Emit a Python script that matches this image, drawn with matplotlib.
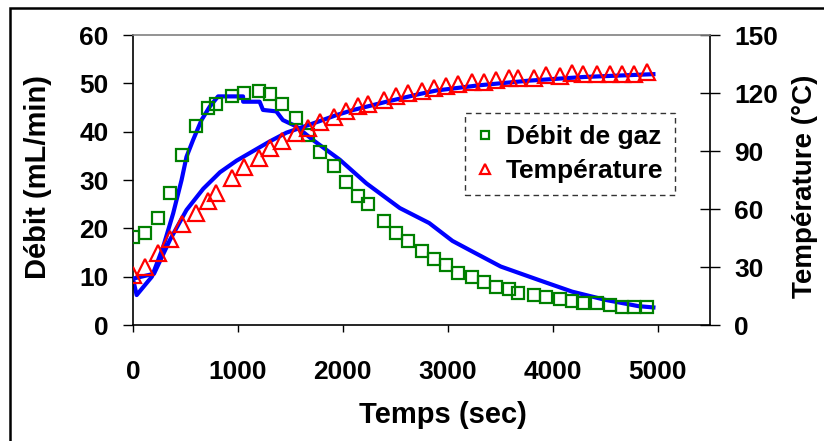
import matplotlib
matplotlib.use("Agg")
import matplotlib.pyplot as plt
from matplotlib.patches import Rectangle

plt.rcParams["font.family"] = ["Liberation Sans", "DejaVu Sans"]
plt.rcParams["font.weight"] = "bold"

# ------------------------------------------------------------
# Mesures (points)
# ------------------------------------------------------------

temps = [0, 110, 240, 352, 470, 603, 717, 793, 945, 1055, 1198, 1310,
         1420, 1555, 1670, 1785, 1912, 2032, 2140, 2238, 2392, 2508,
         2622, 2754, 2868, 2982, 3100, 3228, 3346, 3456, 3583, 3671,
         3820, 3932, 4066, 4182, 4293, 4424, 4544, 4658, 4774, 4898]

debit = [18.3, 19.1, 22.1, 27.4, 35.2, 41.1, 44.9, 45.7, 47.3, 48.1,
         48.5, 47.8, 45.7, 42.8, 39.3, 35.7, 32.8, 29.5, 26.6, 25.0,
         21.6, 19.1, 17.4, 15.4, 13.7, 12.4, 10.8, 9.9, 8.8, 7.9, 7.4,
         6.7, 6.2, 5.9, 5.4, 5.0, 4.6, 4.6, 4.1, 3.8, 3.8, 3.7]

temperature = [25.9, 30.2, 37.4, 44.3, 52.1, 58.1, 64.3, 68.4, 75.9,
               81.9, 86.2, 91.4, 95.3, 99.2, 101.8, 105.2, 107.8, 110.9,
               113.3, 114.3, 116.4, 118.5, 120.2, 121.2, 122.4, 123.6,
               124.6, 125.8, 125.8, 126.7, 127.6, 127.6, 127.6, 129.3,
               128.8, 130.2, 129.8, 129.8, 129.8, 129.8, 129.8, 131.0]

# ------------------------------------------------------------
# Modeles (courbes bleues)
# ------------------------------------------------------------

t_mod_debit = [0, 35, 180, 288, 383, 463, 510, 573, 653, 732, 811, 1049,
               1050, 1207, 1239, 1366, 1429, 1556, 1714, 1971, 2225, 2543,
               2823, 3045, 3235, 3505, 3869, 4186, 4503, 4819, 4980]
mod_debit = [9.5, 6.2, 10.0, 16.2, 23.1, 30.0, 34.8, 38.3, 42.4, 45.2,
             47.3, 47.3, 46.2, 46.2, 44.5, 44.2, 42.4, 41.1, 38.3, 34.2,
             29.3, 24.2, 21.1, 17.4, 15.2, 12.1, 9.3, 6.9, 5.2, 3.9, 3.6]

t_mod_temp = [0, 200, 352, 510, 670, 829, 987, 1146, 1305, 1463, 1622,
              1781, 1940, 2098, 2416, 2733, 2892, 3300, 3774, 4300, 4980]
mod_temp = [24.0, 26.5, 44.0, 59.5, 70.5, 79.0, 85.0, 90.0, 95.0, 99.5,
            102.5, 105.5, 108.6, 111.2, 115.5, 119.5, 121.3, 124.0, 126.4,
            128.3, 129.8]

x_ticks = [0, 1000, 2000, 3000, 4000, 5000]
y_ticks = [0, 10, 20, 30, 40, 50, 60]
y2_ticks = [0, 30, 60, 90, 120, 150]

# ------------------------------------------------------------
# Figure
# ------------------------------------------------------------

fig = plt.figure(figsize=(8.24, 4.41), dpi=100)

ax = fig.add_axes([0.1614, 0.263, 0.7003, 0.6576])
ax2 = ax.twinx()

ax.plot(t_mod_debit, mod_debit, color="#0000FF", linewidth=3.0,
        solid_capstyle="butt", zorder=2)
sq, = ax.plot(temps, debit, linestyle="none", marker="s", markersize=8.5,
              markerfacecolor="none", markeredgecolor="#008000",
              markeredgewidth=1.6, label="Débit de gaz", zorder=3)

ax2.plot(t_mod_temp, mod_temp, color="#0000FF", linewidth=3.0,
         solid_capstyle="butt", zorder=2)
tri, = ax2.plot(temps, temperature, linestyle="none", marker="^",
                markersize=11, markerfacecolor="none",
                markeredgecolor="#FF0000", markeredgewidth=1.6,
                label="Température", zorder=3)

ax.set_xlim(0, 5500)
ax.set_ylim(0, 60)
ax2.set_ylim(0, 150)

ax.set_xticks(x_ticks)
ax.set_yticks(y_ticks)
ax2.set_yticks(y2_ticks)

ax.tick_params(axis="x", direction="out", length=5, width=1,
               pad=20, labelsize=19)
ax.tick_params(axis="y", direction="out", length=7, width=1,
               pad=10.5, labelsize=19)
ax2.tick_params(axis="y", direction="inout", length=14, width=1,
                pad=10.5, labelsize=19)

for spine in ["top", "right"]:
    ax.spines[spine].set_visible(False)
ax2.spines["left"].set_visible(False)
ax2.spines["bottom"].set_visible(False)
ax2.spines["top"].set_color("#808080")
ax2.spines["top"].set_linewidth(1.2)
ax2.spines["right"].set_linewidth(1.2)
ax.spines["left"].set_linewidth(1.2)
ax.spines["bottom"].set_linewidth(1.2)

ax.set_xlabel("Temps (sec)", fontsize=21, fontweight="bold")
ax.set_ylabel("Débit (mL/min)", fontsize=21, fontweight="bold")
ax2.set_ylabel("Température (°C)", fontsize=20, fontweight="bold")
ax.xaxis.set_label_coords(0.537, -0.262)
ax.yaxis.set_label_coords(-0.14, 0.51)
ax2.yaxis.set_label_coords(1.142, 0.48)

leg = ax2.legend(handles=[sq, tri], loc="upper left",
                 bbox_to_anchor=(0.575, 0.731), borderaxespad=0,
                 fontsize=19, markerscale=0.65, handlelength=0.6,
                 handletextpad=0.5, labelspacing=0.4, borderpad=0.45,
                 frameon=True, fancybox=False)
frame = leg.get_frame()
frame.set_edgecolor("black")
frame.set_linestyle((0, (4, 3)))
frame.set_linewidth(1.0)

# cadre exterieur
fig.patches.append(Rectangle((10 / 824, -0.2), 2.0, 1.2 + (441 - 8) / 441 - 1.0,
                             transform=fig.transFigure, fill=False,
                             edgecolor="black", linewidth=1.8))

fig.savefig("out.png", dpi=100)
